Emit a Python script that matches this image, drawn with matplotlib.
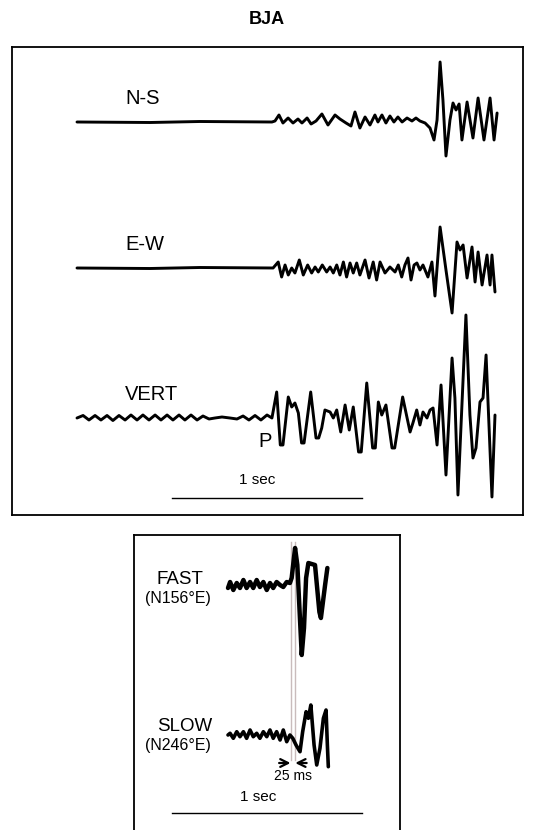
'''Three-component record at station BJA, with the fast and slow
split shear arrivals drawn in a smaller panel underneath.'''

import numpy as np
import matplotlib
matplotlib.use('Agg')
import matplotlib.pyplot as plt

FIG_W, FIG_H = 535, 830
DPI = 100
PX_PER_SEC = 190

plt.rcParams['font.family'] = ['Liberation Sans', 'DejaVu Sans']

# upper panel: time (s) from start of trace, amplitude (counts)
NS_T = [0.000, 0.384, 0.647, 1.026, 1.042, 1.063, 1.084, 1.111, 1.137, 1.163,
        1.184, 1.211, 1.232, 1.258, 1.289, 1.321, 1.358, 1.384, 1.416, 1.442,
        1.463, 1.489, 1.516, 1.542, 1.568, 1.584, 1.605, 1.626, 1.647, 1.668,
        1.689, 1.711, 1.737, 1.763, 1.784, 1.805, 1.832, 1.858, 1.879, 1.895,
        1.911, 1.926, 1.942, 1.963, 1.979, 1.995, 2.011, 2.026, 2.053, 2.084,
        2.111, 2.142, 2.174, 2.195, 2.211]
NS_A = [0, -0.5, 0.5, 0, 1, 7, -1, 4, -1, 3,
        -1, 4, -2, 1, 8, -3, 7, 3, -1, -4,
        10, -6, 5, -3, 7, 0, 7, -1, 6, 0,
        5, 0, 4, 1, 4, 1, -1, -6, -18, 2,
        60, 22, -34, 2, 19, 12, 18, -18, 20, -16,
        24, -18, 24, -18, 9]

EW_T = [0.000, 0.384, 0.647, 1.032, 1.059, 1.077, 1.095, 1.112, 1.130, 1.147,
        1.170, 1.191, 1.214, 1.235, 1.253, 1.270, 1.291, 1.314, 1.332, 1.349,
        1.367, 1.384, 1.402, 1.419, 1.437, 1.454, 1.472, 1.489, 1.516, 1.537,
        1.559, 1.577, 1.595, 1.621, 1.647, 1.674, 1.691, 1.709, 1.726, 1.742,
        1.758, 1.774, 1.789, 1.805, 1.821, 1.847, 1.868, 1.884, 1.911, 1.942,
        1.974, 2.000, 2.016, 2.032, 2.053, 2.079, 2.095, 2.111, 2.132, 2.158,
        2.174, 2.184, 2.200]
EW_A = [0, -0.5, 0.5, 0, 6, -9, 3, -7, 0, -5,
        8, -7, 3, -5, 1, -4, 3, -4, 1, -5,
        3, -7, 6, -9, 5, -5, 5, -7, 8, -10,
        6, -12, 6, -5, 1, -4, 3, -9, 3, 10,
        -12, 3, 5, -2, 3, -9, 6, -28, 41, -2,
        -45, 26, 18, 23, -10, 21, -14, 16, -17, 13,
        -17, 13, -24]

VERT_T = [0.000, 0.032, 0.063, 0.095, 0.126, 0.158, 0.189, 0.221, 0.253, 0.284,
          0.316, 0.347, 0.379, 0.411, 0.442, 0.474, 0.505, 0.537, 0.568, 0.600,
          0.632, 0.663, 0.695, 0.726, 0.763, 0.805, 0.842, 0.874, 0.905, 0.937,
          0.968, 1.000, 1.026, 1.051, 1.070, 1.084, 1.112, 1.130, 1.147, 1.165,
          1.182, 1.195, 1.230, 1.258, 1.272, 1.288, 1.305, 1.332, 1.349, 1.367,
          1.388, 1.411, 1.433, 1.454, 1.482, 1.496, 1.525, 1.556, 1.570, 1.586,
          1.604, 1.626, 1.658, 1.672, 1.714, 1.753, 1.768, 1.788, 1.805, 1.821,
          1.842, 1.858, 1.874, 1.895, 1.916, 1.942, 1.974, 1.989, 2.005, 2.047,
          2.068, 2.084, 2.100, 2.121, 2.137, 2.153, 2.184, 2.200]
VERT_A = [0, 2.5, -2, 2.5, -2, 2.5, -2.5, 2.5, -2, 3,
          -2, 3, -2, 3, -2, 3, -2, 3, -2, 3,
          -2, 2, -1, 0, 1, 0, -1, 2, -2, 2.5,
          -2, 3, 0, 26, -27, -27, 21, 11, 15, 5,
          -25, -25, 26, -20, -20, -10, 8, 6, 0, 8,
          -14, 13, -12, 11, -34, -34, 35, -30, -30, 16,
          3, 13, -30, -30, 21, -14, -5, 8, -7, 6,
          0, 8, 10, -27, 33, -57, 60, 20, -77, 103,
          3, -40, -30, 16, 20, 63, -79, 3]

# lower panel: split shear arrivals, time (s) from start of window
FAST_T = [0.000, 0.011, 0.028, 0.046, 0.063, 0.081, 0.098, 0.116, 0.133, 0.151,
          0.168, 0.186, 0.204, 0.221, 0.238, 0.256, 0.274, 0.291, 0.309, 0.326,
          0.335, 0.353, 0.365, 0.388, 0.400, 0.411, 0.423, 0.458, 0.481, 0.489,
          0.511, 0.523]
FAST_A = [0, 6, -2, 5, 0, 8, 0, 6, 0, 8,
          1, 6, -2, 5, 0, 6, 3, 1, 6, 5,
          10, 40, 23, -67, -40, 10, 25, 23, -24, -30,
          3, 20]

SLOW_T = [0.000, 0.011, 0.028, 0.046, 0.063, 0.081, 0.098, 0.116, 0.133, 0.151,
          0.168, 0.186, 0.204, 0.221, 0.238, 0.256, 0.274, 0.291, 0.309, 0.326,
          0.341, 0.358, 0.379, 0.393, 0.411, 0.423, 0.436, 0.453, 0.467, 0.484,
          0.502, 0.516, 0.523, 0.528]
SLOW_A = [0, 1.7, -3.3, 3.3, -1.7, 3.3, -3.3, 5, -1.7, 1.7,
          -3.3, 3.3, -1.7, 5, -3.3, 3.3, -5, 5, -6.7, 0,
          -3.3, -10, -16.7, 3.3, 23.3, 16.7, 30, -10, -30, -13.3,
          16.7, 25, -10, -31.7]

FAST_ONSET = 0.329   # s
DELAY = 0.025        # s, slow wave lag

UPPER = [('N-S', NS_T, NS_A, 393), ('E-W', EW_T, EW_A, 247), ('VERT', VERT_T, VERT_A, 97)]
LOWER = [('FAST', '(N156°E)', FAST_T, FAST_A, 234, 3.2),
         ('SLOW', '(N246°E)', SLOW_T, SLOW_A, 87, 2.6)]


def px_axes(fig, left, top, right, bottom, t0):
    '''Axes placed by pixel box; x in seconds with t=0 at pixel column t0,
    y in pixels upward from the bottom edge.'''
    ax = fig.add_axes([left / FIG_W, 1 - bottom / FIG_H,
                       (right - left) / FIG_W, (bottom - top) / FIG_H])
    ax.set_xlim((left - t0) / PX_PER_SEC, (right - t0) / PX_PER_SEC)
    ax.set_ylim(0, bottom - top)
    ax.set_xticks([])
    ax.set_yticks([])
    for s in ax.spines.values():
        s.set_linewidth(1.3)
        s.set_color('black')
    return ax


def trace(ax, t, a, base, lw):
    ax.plot(t, np.array(a) + base, color='black', lw=lw,
            solid_joinstyle='round', solid_capstyle='round')


def upper_panel(fig):
    ax = px_axes(fig, 12, 47, 523, 515, 77)
    for name, t, a, base in UPPER:
        trace(ax, t, a, base, 2.1)
        ax.text(0.253, base + 24, name, fontsize=14.5, ha='left', va='center')
    ax.text(0.953, 74, 'P', fontsize=14.5, ha='left', va='center')
    ax.text(0.95, 35, '1 sec', fontsize=11, ha='center', va='center')
    ax.plot([0.5, 1.5], [17, 17], color='black', lw=1.0)


def lower_panel(fig):
    ax = px_axes(fig, 134, 535, 400, 830, 228)
    ax.spines['bottom'].set_visible(False)
    for name, az, t, a, base, lw in LOWER:
        trace(ax, t, a, base + 8, lw)
        ax.text(-0.374, base + 17, name, fontsize=13.5, ha='left', va='center')
        ax.text(-0.437, base - 2, az, fontsize=11.5, ha='left', va='center')

    t1 = FAST_ONSET
    t2 = FAST_ONSET + DELAY
    for t in (t1, t2):
        ax.plot([t, t], [70, 288], color='#c9bcbc', lw=1.0, zorder=0)

    arrow = dict(arrowstyle='->', lw=1.6, color='black', mutation_scale=14,
                 shrinkA=0, shrinkB=0)
    ax.annotate('', xy=(t1, 67), xytext=(t1 - 0.06, 67), arrowprops=arrow)
    ax.annotate('', xy=(t2, 67), xytext=(t2 + 0.06, 67), arrowprops=arrow)
    ax.text((t1 + t2) / 2, 54, '25 ms', fontsize=10, ha='center', va='center')

    ax.text(0.158, 33, '1 sec', fontsize=11, ha='center', va='center')
    ax.plot([-0.295, 0.705], [17, 17], color='black', lw=1.0)


def main():
    fig = plt.figure(figsize=(FIG_W / DPI, FIG_H / DPI), dpi=DPI)
    fig.text(267 / FIG_W, 1 - 20 / FIG_H, 'BJA', fontsize=13, fontweight='bold',
             ha='center', va='center')
    upper_panel(fig)
    lower_panel(fig)
    fig.savefig('out.png', dpi=DPI)


if __name__ == '__main__':
    main()
